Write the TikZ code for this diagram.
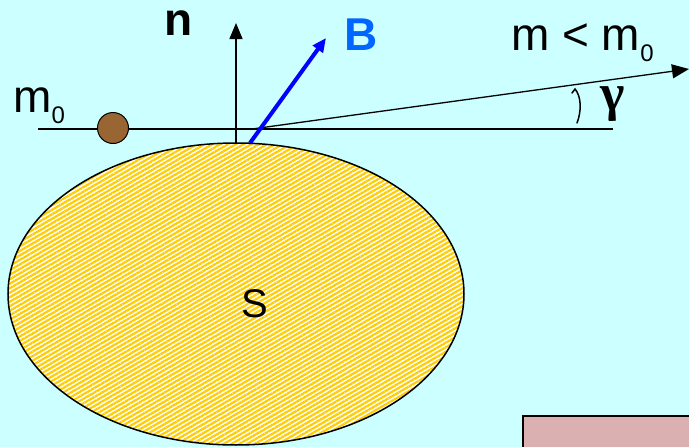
\documentclass[tikz,border=0pt]{standalone}
\usepackage{fontspec}
\setmainfont{Liberation Sans}
\newfontfamily\gfont{Liberation Serif}
\usetikzlibrary{arrows.meta,patterns.meta}
\definecolor{bg}{HTML}{CCFFFF}
\definecolor{stripe}{HTML}{FFCC00}
\definecolor{ball}{HTML}{996633}
\definecolor{pinkbox}{HTML}{DBB0B0}
\definecolor{bblue}{HTML}{0066FF}
\tikzset{
  lbl/.style={inner sep=0pt,anchor=base west,font=\fontsize{46}{46}\selectfont},
  thinline/.style={line width=1.5pt,black},
}
\newcommand{\subz}{\raisebox{-11pt}{\fontsize{24}{24}\selectfont 0}}
\begin{document}
\begin{tikzpicture}[x=1pt,y=-1pt]
\useasboundingbox (0,0) rectangle (689,447);
\fill[bg] (0,0) rectangle (689,447);
% pink box
\draw[line width=2pt,fill=pinkbox] (523,416) rectangle (700,460);
% ellipse
\fill[white] (236,294) ellipse [x radius=228pt,y radius=151pt];
\fill[pattern={Lines[angle=30,distance=3.9pt,line width=2.2pt]},pattern color=stripe] (236,294) ellipse [x radius=228pt,y radius=151pt];
\draw[line width=1.5pt] (236,294) ellipse [x radius=228pt,y radius=151pt];
\node[inner sep=0pt,font=\fontsize{40}{40}\selectfont] (S) at (255,304) {S};
% coordinates
\coordinate (L) at (38,129);
\coordinate (R) at (613,129);
\coordinate (nb) at (236,143);
\coordinate (nt) at (236,23);
\coordinate (bb) at (250,143);
\coordinate (bt) at (326,38);
\coordinate (ms) at (252,129);
\coordinate (me) at (689,69);
% horizontal line
\draw[thinline] (L) -- (R);
% normal
\draw[thinline,-{Triangle[length=16pt,width=13pt]}] (nb) -- (nt);
% tilted
\draw[line width=1.3pt,-{Triangle[length=17pt,width=14pt]}] (ms) -- (me);
% B
\draw[line width=4pt,blue,-{Triangle[length=14pt,width=12pt]}] (bb) -- (bt);
% ball
\node[circle,draw,line width=1pt,fill=ball,minimum size=31pt,inner sep=0pt] (ball) at (113,128) {};
% angle arc
\draw[line width=1.5pt,line cap=round] (577,123) .. controls (582,110) and (581,96) .. (575,89) -- (572,93);
% labels
\node[lbl] (m0) at (13,112) {m\subz};
\node[lbl,font=\bfseries\fontsize{46}{46}\selectfont] (n) at (164,35) {n};
\node[lbl,font=\bfseries\fontsize{46}{46}\selectfont,text=bblue] (B) at (344,50) {B};
\node[lbl] (mm) at (511,50) {m < m\subz};
\node[lbl,font=\gfont\bfseries\fontsize{52}{52}\selectfont] (g) at (600,110) {γ};
\end{tikzpicture}
\end{document}
